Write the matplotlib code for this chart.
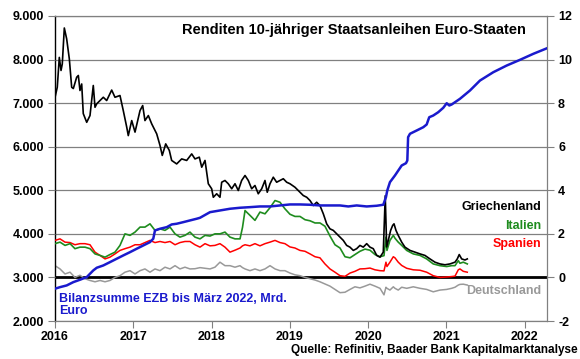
import matplotlib
matplotlib.use('Agg')
import matplotlib.pyplot as plt

plt.rcParams['font.family'] = ['Liberation Sans', 'DejaVu Sans']

# ---------------- data ----------------
# 10y yields, % (right axis)
yield_t = [2016.000, 2016.064, 2016.128, 2016.192, 2016.255, 2016.319, 2016.383, 2016.447,
           2016.511, 2016.575, 2016.639, 2016.702, 2016.766, 2016.830, 2016.894, 2016.958,
           2017.022, 2017.086, 2017.149, 2017.213, 2017.277, 2017.341, 2017.405, 2017.469,
           2017.533, 2017.596, 2017.660, 2017.724, 2017.788, 2017.852, 2017.916, 2017.980,
           2018.043, 2018.107, 2018.171, 2018.235, 2018.299, 2018.363, 2018.395, 2018.427,
           2018.490, 2018.554, 2018.618, 2018.682, 2018.746, 2018.810, 2018.874, 2018.937,
           2019.001, 2019.065, 2019.129, 2019.193, 2019.257, 2019.321, 2019.384, 2019.448,
           2019.512, 2019.576, 2019.640, 2019.704, 2019.768, 2019.831, 2019.895, 2019.959,
           2020.023, 2020.087, 2020.151, 2020.202, 2020.227, 2020.240, 2020.278, 2020.321,
           2020.342, 2020.384, 2020.428, 2020.492, 2020.576, 2020.662, 2020.747, 2020.831,
           2020.917, 2021.003, 2021.066, 2021.109, 2021.151, 2021.172, 2021.215, 2021.266]

italy = [1.55, 1.62, 1.47, 1.55, 1.32, 1.39, 1.39, 1.32, 1.08, 1.01, 0.93, 1.05, 1.16, 1.47, 2.00, 1.93,
         2.08, 2.31, 2.31, 2.46, 2.16, 2.23, 2.16, 2.31, 2.00, 1.85, 1.93, 2.08, 1.85, 1.77, 1.93, 1.90,
         2.00, 2.00, 2.08, 1.85, 1.77, 1.77, 2.30, 3.07, 2.85, 2.62, 3.00, 2.92, 3.20, 3.53, 3.45, 3.15,
         2.90, 2.80, 2.80, 2.65, 2.60, 2.50, 2.50, 2.35, 1.90, 1.50, 1.35, 0.95, 0.90, 1.05, 1.20, 1.30,
         1.25, 1.05, 0.95, 1.00, 1.85, 1.24, 1.70, 1.93, 1.80, 1.62, 1.47, 1.24, 1.08, 1.01, 0.85, 0.62,
         0.54, 0.50, 0.54, 0.54, 0.77, 0.65, 0.70, 0.62]

spain = [1.70, 1.77, 1.62, 1.60, 1.50, 1.55, 1.55, 1.50, 1.16, 1.01, 0.85, 0.93, 1.08, 1.24, 1.32, 1.39,
         1.50, 1.50, 1.60, 1.70, 1.60, 1.65, 1.60, 1.65, 1.50, 1.60, 1.65, 1.65, 1.50, 1.39, 1.55, 1.45,
         1.47, 1.55, 1.39, 1.16, 1.25, 1.35, 1.45, 1.50, 1.45, 1.55, 1.45, 1.55, 1.62, 1.70, 1.60, 1.55,
         1.40, 1.35, 1.24, 1.20, 1.08, 0.95, 0.90, 0.62, 0.39, 0.24, 0.08, 0.05, 0.20, 0.28, 0.39, 0.40,
         0.43, 0.35, 0.31, 0.30, 0.70, 0.50, 0.70, 0.95, 0.90, 0.70, 0.55, 0.42, 0.35, 0.33, 0.24, 0.08,
         0.00, 0.02, 0.04, 0.06, 0.35, 0.39, 0.28, 0.24]

germany = [0.54, 0.39, 0.16, 0.24, 0.00, 0.10, -0.06, -0.14, -0.20, -0.14, -0.20, -0.14, 0.00, 0.08, 0.24, 0.31,
           0.16, 0.31, 0.39, 0.24, 0.39, 0.31, 0.47, 0.39, 0.54, 0.39, 0.47, 0.39, 0.40, 0.45, 0.42, 0.39,
           0.47, 0.70, 0.54, 0.54, 0.47, 0.54, 0.45, 0.39, 0.31, 0.39, 0.31, 0.39, 0.54, 0.39, 0.31, 0.31,
           0.20, 0.12, 0.08, 0.00, -0.06, -0.12, -0.20, -0.30, -0.40, -0.55, -0.70, -0.68, -0.55, -0.43, -0.48, -0.40,
           -0.31, -0.40, -0.50, -0.80, -0.45, -0.50, -0.58, -0.43, -0.50, -0.58, -0.45, -0.50, -0.43, -0.50, -0.55, -0.66,
           -0.58, -0.55, -0.50, -0.45, -0.35, -0.32, -0.31, -0.35]

greece_t = [2016.000, 2016.029, 2016.055, 2016.077, 2016.093, 2016.119, 2016.149, 2016.183, 2016.213, 2016.234,
            2016.277, 2016.298, 2016.319, 2016.341, 2016.361, 2016.405, 2016.447, 2016.489, 2016.511, 2016.533,
            2016.575, 2016.617, 2016.660, 2016.724, 2016.766, 2016.830, 2016.872, 2016.916, 2016.936, 2016.980,
            2017.022, 2017.086, 2017.120, 2017.149, 2017.192, 2017.235, 2017.299, 2017.341, 2017.370, 2017.414,
            2017.460, 2017.490, 2017.554, 2017.618, 2017.682, 2017.746, 2017.788, 2017.843, 2017.874, 2017.916,
            2017.958, 2018.001, 2018.022, 2018.065, 2018.107, 2018.129, 2018.171, 2018.213, 2018.257, 2018.299,
            2018.341, 2018.384, 2018.427, 2018.469, 2018.512, 2018.554, 2018.596, 2018.640, 2018.682, 2018.711,
            2018.746, 2018.788, 2018.831, 2018.874, 2018.916, 2018.959, 2019.001, 2019.065, 2019.129, 2019.171,
            2019.215, 2019.257, 2019.299, 2019.342, 2019.384, 2019.427, 2019.470, 2019.512, 2019.554, 2019.598,
            2019.640, 2019.682, 2019.725, 2019.767, 2019.810, 2019.853, 2019.895, 2019.937, 2019.981, 2020.023,
            2020.065, 2020.109, 2020.151, 2020.193, 2020.218, 2020.236, 2020.257, 2020.287, 2020.313, 2020.330,
            2020.355, 2020.384, 2020.428, 2020.470, 2020.534, 2020.598, 2020.662, 2020.725, 2020.789, 2020.853,
            2020.917, 2020.981, 2021.045, 2021.109, 2021.138, 2021.163, 2021.194, 2021.236, 2021.266]
greece = [8.26, 8.73, 10.10, 9.50, 9.80, 11.45, 10.95, 10.03, 8.73, 8.67,
          9.19, 9.27, 8.58, 8.88, 7.52, 7.12, 7.43, 8.81, 7.81, 7.97,
          8.12, 8.27, 8.12, 8.60, 8.27, 8.35, 7.66, 6.90, 6.51, 7.20,
          6.67, 7.66, 7.89, 7.20, 7.43, 7.05, 6.59, 6.06, 5.60, 6.13,
          5.83, 5.37, 5.21, 5.44, 5.37, 5.67, 5.44, 5.52, 5.06, 5.37,
          4.30, 4.07, 3.68, 3.84, 3.68, 4.37, 4.45, 4.30, 4.07, 4.30,
          3.99, 4.45, 4.68, 4.45, 4.07, 4.22, 3.84, 4.07, 4.45, 3.91,
          4.30, 4.60, 4.37, 4.45, 4.53, 4.37, 4.30, 4.14, 3.91, 3.76,
          3.68, 3.53, 3.30, 3.45, 3.30, 2.92, 2.46, 2.23, 2.16, 2.00,
          1.85, 1.70, 1.47, 1.39, 1.24, 1.32, 1.47, 1.39, 1.55, 1.39,
          1.32, 1.01, 0.93, 1.16, 3.75, 1.40, 1.70, 2.16, 2.39, 2.46,
          2.16, 1.93, 1.62, 1.39, 1.24, 1.16, 1.08, 1.01, 0.85, 0.70,
          0.62, 0.58, 0.62, 0.70, 0.85, 1.05, 0.85, 0.80, 0.85]

# ECB balance sheet, Mrd. Euro (left axis)
ecb_t = [2016.000, 2016.064, 2016.149, 2016.234, 2016.319, 2016.405, 2016.489, 2016.533, 2016.617, 2016.702,
         2016.788, 2016.872, 2016.958, 2017.043, 2017.128, 2017.213, 2017.255, 2017.277, 2017.341, 2017.427,
         2017.490, 2017.554, 2017.639, 2017.724, 2017.810, 2017.852, 2017.980, 2018.107, 2018.235, 2018.363,
         2018.490, 2018.618, 2018.746, 2018.874, 2019.001, 2019.129, 2019.257, 2019.384, 2019.512, 2019.640,
         2019.746, 2019.853, 2019.981, 2020.109, 2020.193, 2020.227, 2020.244, 2020.278, 2020.342, 2020.428,
         2020.483, 2020.500, 2020.510, 2020.534, 2020.619, 2020.704, 2020.747, 2020.780, 2020.831, 2020.895,
         2020.959, 2021.003, 2021.036, 2021.066, 2021.172, 2021.300, 2021.428, 2021.598, 2021.769, 2021.939,
         2022.109, 2022.284]
ecb = [2741, 2777, 2816, 2892, 2947, 3007, 3161, 3222, 3275, 3351,
       3429, 3505, 3580, 3658, 3734, 3810, 3888, 4078, 4117, 4154,
       4216, 4232, 4269, 4308, 4347, 4369, 4498, 4537, 4576, 4599,
       4613, 4629, 4629, 4652, 4675, 4675, 4668, 4652, 4652, 4652,
       4629, 4652, 4629, 4645, 4668, 4842, 4996, 5186, 5340, 5569,
       5622, 5684, 6219, 6297, 6372, 6448, 6510, 6677, 6716, 6792,
       6893, 6998, 6946, 6969, 7099, 7290, 7519, 7710, 7863, 7994,
       8132, 8260]

years = [2016, 2017, 2018, 2019, 2020, 2021, 2022]
right_ticks = [-2, 0, 2, 4, 6, 8, 10, 12]
left_ticks = [2000, 3000, 4000, 5000, 6000, 7000, 8000, 9000]
left_labels = ['2.000', '3.000', '4.000', '5.000', '6.000', '7.000', '8.000', '9.000']

# ---------------- figure ----------------
W, H = 580, 359
fig = plt.figure(figsize=(W / 100, H / 100), dpi=100)
x0, x1, y0, y1 = 55, 547, 16, 321
ax = fig.add_axes([x0 / W, 1 - y1 / H, (x1 - x0) / W, (y1 - y0) / H])
ax_l = ax.twinx()   # twinx resets ax ticks to the left, so set positions afterwards

# right axis: yields
ax.set_xlim(2016, 2022.284)
ax.set_ylim(-2, 12)
ax.yaxis.tick_right()
ax.set_yticks(right_ticks)
ax.set_yticklabels([str(v) for v in right_ticks])
ax.set_xticks(years)
ax.set_xticklabels([str(v) for v in years])
ax.tick_params(axis='both', direction='out', length=5, width=0.8, color='#808080',
               labelsize=9)
ax.tick_params(axis='x', pad=2)
ax.tick_params(axis='y', pad=3)
for lab in ax.get_xticklabels() + ax.get_yticklabels():
    lab.set_fontweight('bold')

ax.grid(axis='y', color='#808080', lw=0.9)
ax.set_axisbelow(True)
for s in ['top', 'right', 'bottom']:
    ax.spines[s].set_color('#808080')
    ax.spines[s].set_linewidth(0.9)
ax.spines['left'].set_color('black')
ax.spines['left'].set_linewidth(1.0)
ax.axhline(0, color='black', lw=2, zorder=1.5)

ax.plot(yield_t, germany, color='#999999', lw=1.1, zorder=2)
ax.plot(yield_t, spain, color='#ff0000', lw=1.1, zorder=3)
ax.plot(yield_t, italy, color='#1e8c1e', lw=1.2, zorder=4)
ax.plot(greece_t, greece, color='black', lw=1.2, zorder=5)

# left axis: ECB balance sheet
ax_l.yaxis.tick_left()
ax_l.set_ylim(2000, 9000)
ax_l.set_yticks(left_ticks)
ax_l.set_yticklabels(left_labels)
ax_l.tick_params(axis='y', direction='out', length=5, width=0.8, color='#808080',
                 labelsize=9, pad=3)
for lab in ax_l.get_yticklabels():
    lab.set_fontweight('bold')
for s in ax_l.spines.values():
    s.set_visible(False)
ax_l.plot(ecb_t, ecb, color='#1a1acd', lw=1.8)

# texts
def ftext(x, y, s, **kw):
    fig.text(x / W, 1 - y / H, s, fontweight='bold', **kw)

ftext(354, 30, 'Renditen 10-jähriger Staatsanleihen Euro-Staaten', fontsize=10.5,
      ha='center', va='center')
ftext(541, 207, 'Griechenland', fontsize=9, ha='right', va='center', color='black')
ftext(541, 226, 'Italien', fontsize=9, ha='right', va='center', color='#1e8c1e')
ftext(541, 244, 'Spanien', fontsize=9, ha='right', va='center', color='#ff0000')
ftext(541, 291, 'Deutschland', fontsize=9, ha='right', va='center', color='#999999')
ftext(59, 305, 'Bilanzsumme EZB bis März 2022, Mrd.\nEuro', fontsize=9,
      ha='left', va='center', color='#1a1acd', linespacing=1.05)
ftext(578, 350, 'Quelle: Refinitiv, Baader Bank Kapitalmarktanalyse', fontsize=8.5,
      ha='right', va='center')

fig.savefig('out.png', dpi=100)
